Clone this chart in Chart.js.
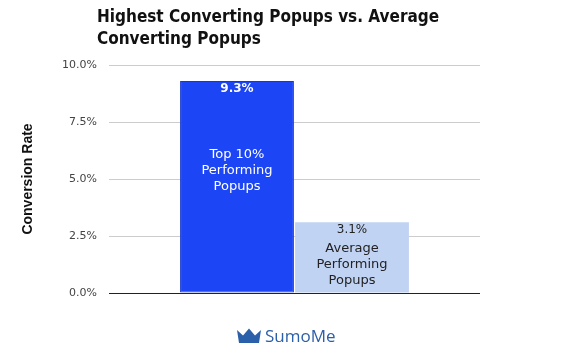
<!DOCTYPE html>
<html>
<head>
<meta charset="utf-8">
<script src="https://cdn.jsdelivr.net/npm/chart.js@4/dist/chart.umd.min.js"></script>
<style>
  html, body { margin: 0; padding: 0; background: #fff; }
  #wrap { width: 584px; height: 359px; position: relative; }
</style>
</head>
<body>
<div id="wrap"><canvas id="chart" width="584" height="359"></canvas></div>
<script>
// ---- Data ---------------------------------------------------------------
const titleLines  = ["Highest Converting Popups vs. Average", "Converting Popups"];
const axisTitle   = "Conversion Rate";
const seriesNames = [["Top 10%", "Performing", "Popups"], ["Average", "Performing", "Popups"]];
const seriesVals  = [9.3, 3.1];
const yTicks      = [0, 2.5, 5, 7.5, 10];

const BLUE  = "#1c45f5";
const LIGHT = "#c1d3f3";

// ---- Header, bar captions and logo -------------------------------------
const decorPlugin = {
    id: "decor",
    afterDatasetsDraw(chart) {
        const ctx = chart.ctx;
        ctx.save();

        // title
        ctx.fillStyle = "#111";
        ctx.font = "bold 17px 'Liberation Sans Narrow', 'DejaVu Sans Condensed', sans-serif";
        ctx.textAlign = "left";
        ctx.textBaseline = "middle";
        titleLines.forEach((t, i) => ctx.fillText(t, 97, 18 + i * 22));

        // captions inside bars
        chart.data.datasets.forEach((ds, di) => {
            const bar = chart.getDatasetMeta(di).data[0];
            const x = bar.x, top = bar.y, bottom = bar.base;
            ctx.fillStyle = di === 0 ? "#fff" : "#222";
            ctx.textAlign = "center";
            ctx.font = (di === 0 ? "bold " : "") + "12px 'DejaVu Sans'";
            ctx.fillText(seriesVals[di].toFixed(1) + "%", x, top + 8);
            ctx.font = "13px 'DejaVu Sans'";
            const start = di === 0 ? (top + bottom) / 2 - 32 : top + 26;
            seriesNames[di].forEach((l, i) => ctx.fillText(l, x, start + i * 16));
        });

        // SumoMe logo
        ctx.fillStyle = "#2c5fa9";
        ctx.beginPath();
        ctx.moveTo(237, 330);
        ctx.lineTo(243, 335.5);
        ctx.lineTo(249, 328.5);
        ctx.lineTo(255, 335.5);
        ctx.lineTo(261, 330);
        ctx.lineTo(259, 343);
        ctx.lineTo(239, 343);
        ctx.closePath();
        ctx.fill();
        ctx.font = "17px 'Open Sans'";
        ctx.textAlign = "left";
        ctx.fillText("SumoMe", 265, 337);

        ctx.restore();
    }
};

new Chart(document.getElementById("chart"), {
    type: "bar",
    data: {
        labels: [""],
        datasets: [
            { label: seriesNames[0].join(" "), data: [seriesVals[0]], backgroundColor: BLUE,
              borderColor: "#1538d0", borderWidth: 1, borderSkipped: false },
            { label: seriesNames[1].join(" "), data: [seriesVals[1]], backgroundColor: LIGHT,
              borderWidth: 0 },
        ],
    },
    options: {
        responsive: false,
        animation: false,
        layout: { padding: { top: 65, right: 104, bottom: 66, left: 0 } },
        plugins: { legend: { display: false }, title: { display: false }, tooltip: { enabled: false } },
        datasets: { bar: { categoryPercentage: 0.62, barPercentage: 0.99 } },
        scales: {
            x: { display: false },
            y: {
                min: 0, max: 10,
                afterFit: (s) => { s.width = 109; },
                afterBuildTicks: (s) => { s.ticks = yTicks.map((v) => ({ value: v })); },
                border: { display: false },
                grid: {
                    drawTicks: false,
                    color: (c) => c.tick && c.tick.value === 0 ? "#222" : "#cccccc",
                },
                ticks: {
                    padding: 12,
                    color: "#444",
                    font: { family: "DejaVu Sans", size: 11 },
                    callback: (v) => v.toFixed(1) + "%",
                },
                title: {
                    display: true,
                    text: axisTitle,
                    color: "#111",
                    padding: { top: 20, bottom: 0 },
                    font: { family: "Liberation Sans", size: 14, weight: "bold" },
                },
            },
        },
    },
    plugins: [decorPlugin],
});
</script>
</body>
</html>
